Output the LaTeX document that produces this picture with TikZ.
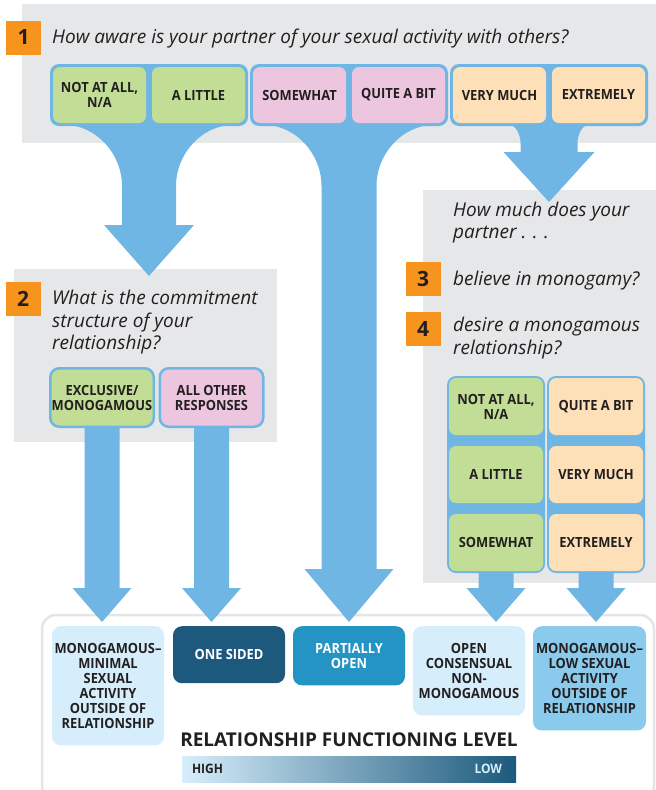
\documentclass[tikz,border=0pt]{standalone}
\usepackage{fontspec}
\setmainfont{Open Sans}
\newfontfamily\tagfont[FakeStretch=0.92]{Open Sans}
\usetikzlibrary{positioning,calc}

\definecolor{flow}{RGB}{112,182,228}
\definecolor{panelgray}{RGB}{230,231,232}
\definecolor{numorange}{RGB}{247,148,30}
\definecolor{lowgreen}{RGB}{193,221,150}
\definecolor{midpink}{RGB}{236,197,222}
\definecolor{highpeach}{RGB}{253,223,184}
\definecolor{outpale}{RGB}{214,238,251}
\definecolor{outdark}{RGB}{28,89,124}
\definecolor{outmid}{RGB}{35,148,196}
\definecolor{outsky}{RGB}{138,202,236}
\definecolor{ink}{RGB}{35,31,32}
\definecolor{framegray}{RGB}{228,229,230}

\newcommand\funnel[7]{%
  \fill[flow] let \p1=(#1.south), \p2=(#2) in
    (\x1-#3pt,\y1+1.5pt)
    .. controls (\x1-0.45*#3pt-0.55*#4pt,\y1+1.5pt) and (\x1-#4pt,\y1-0.45*#5pt) .. (\x1-#4pt,\y1-#5pt)
    -- (\x1-#4pt,\y2+#7pt) -- (\x1-#6pt,\y2+#7pt) -- (\x1,\y2)
    -- (\x1+#6pt,\y2+#7pt) -- (\x1+#4pt,\y2+#7pt) -- (\x1+#4pt,\y1-#5pt)
    .. controls (\x1+#4pt,\y1-0.45*#5pt) and (\x1+0.45*#3pt+0.55*#4pt,\y1+1.5pt) .. (\x1+#3pt,\y1+1.5pt)
    -- cycle;
}
\newcommand\droparrow[2]{%
  \fill[flow] let \p1=(#1.south), \p2=(#2) in
    (\x1-17.5pt,\y1+1pt) -- (\x1-17.5pt,\y2+34pt) -- (\x1-29.5pt,\y2+34pt) -- (\x1,\y2)
    -- (\x1+29.5pt,\y2+34pt) -- (\x1+17.5pt,\y2+34pt) -- (\x1+17.5pt,\y1+1pt) -- cycle;
}

\begin{document}
\begin{tikzpicture}[x=1pt, y=-1pt,
    numbox/.style = {fill=numorange, text=ink, minimum width=35pt, minimum height=34pt, inner sep=0pt, font=\fontsize{21}{21}\selectfont\bfseries},
    question/.style = {anchor=base west, inner sep=0pt, align=left, text=ink, font=\fontsize{19}{22.5}\selectfont\itshape},
    group/.style = {fill=flow, rounded corners=9pt, minimum width=198pt, minimum height=62pt, inner sep=0pt},
    answer/.style = {rounded corners=7pt, minimum width=93pt, minimum height=56pt, inner sep=0pt, align=center, text=ink, font=\tagfont\fontsize{14}{15}\selectfont\bfseries},
    choice/.style = {answer, draw=flow, line width=2.5pt, rounded corners=9pt, minimum width=103.5pt, minimum height=58.5pt},
    outcome/.style = {anchor=north, rounded corners=9pt, minimum width=112pt, minimum height=57pt, inner xsep=2pt, inner ysep=17pt, align=center, text=ink, font=\tagfont\fontsize{14}{15}\selectfont\bfseries}
  ]
  \useasboundingbox (0,0) rectangle (656,790);

  \fill[panelgray] (22,4) rectangle (656,143);
  \fill[panelgray] (14,269) rectangle (277,442);
  \fill[panelgray] (423,190) rectangle (656,583);
  \draw[framegray, fill=white, line width=2.5pt, rounded corners=14pt] (42,615) rectangle (654,800);

  \node (n1) [numbox] at (23.5,37.5) {1};
  \node (q1) [question] at (52,43.5) {How aware is your partner of your sexual activity with others?};

  \node (g1) [group] at (149,95) {};
  \node (g2) [group, right of=g1, node distance=200pt] {};
  \node (g3) [group, right of=g2, node distance=200pt] {};
  \node (notatall) [answer, fill=lowgreen] at (99.5,95) {NOT AT ALL,\\N/A};
  \node (alittle) [answer, fill=lowgreen, right of=notatall, node distance=99pt] {A LITTLE};
  \node (somewhat) [answer, fill=midpink, right of=alittle, node distance=101pt] {SOMEWHAT};
  \node (quite) [answer, fill=midpink, right of=somewhat, node distance=99pt] {QUITE A BIT};
  \node (verymuch) [answer, fill=highpeach, right of=quite, node distance=101pt] {VERY MUCH};
  \node (extremely) [answer, fill=highpeach, right of=verymuch, node distance=99pt] {EXTREMELY};

  \node (n2) [numbox] at (23,299) {2};
  \node (q2) [question] at (52,349.5) {What is the commitment\\structure of your\\relationship?};
  \node (exclusive) [choice, fill=lowgreen] at (102,397.5) {EXCLUSIVE/\\MONOGAMOUS};
  \node (allother) [choice, fill=midpink, right of=exclusive, node distance=109.5pt] {ALL OTHER\\RESPONSES};

  \node (q3) [question] at (453,238.5) {How much does your\\partner . . .};
  \node (n3) [numbox] at (423,279) {3};
  \node (q3b) [question] at (453,285) {believe in monogamy?};
  \node (n4) [numbox, below of=n3, node distance=50pt] {4};
  \node (q4) [question] at (453,354) {desire a monogamous\\relationship?};

  \node (col1) [group, minimum width=98pt, minimum height=197pt] at (496,474.5) {};
  \node (col2) [group, minimum width=98pt, minimum height=197pt, right of=col1, node distance=100pt] {};
  \node (bnot) [answer, fill=lowgreen, minimum width=94pt, minimum height=57pt] at (496,406.5) {NOT AT ALL,\\N/A};
  \node (blittle) [answer, fill=lowgreen, minimum width=94pt, minimum height=57pt, below of=bnot, node distance=68pt] {A LITTLE};
  \node (bsome) [answer, fill=lowgreen, minimum width=94pt, minimum height=57pt, below of=blittle, node distance=68pt] {SOMEWHAT};
  \node (bquite) [answer, fill=highpeach, minimum width=94pt, minimum height=57pt, right of=bnot, node distance=100pt] {QUITE A BIT};
  \node (bvery) [answer, fill=highpeach, minimum width=94pt, minimum height=57pt, below of=bquite, node distance=68pt] {VERY MUCH};
  \node (bextreme) [answer, fill=highpeach, minimum width=94pt, minimum height=57pt, below of=bvery, node distance=68pt] {EXTREMELY};

  \node (oc1) [outcome, fill=outpale] at (108,626) {MONOGAMOUS\textendash\\MINIMAL\\SEXUAL\\ACTIVITY\\OUTSIDE OF\\RELATIONSHIP};
  \node (oc2) [outcome, fill=outdark, text=white] at (229,626) {ONE SIDED};
  \node (oc3) [outcome, fill=outmid, text=white] at (349,626) {PARTIALLY\\OPEN};
  \node (oc4) [outcome, fill=outpale] at (469,626) {OPEN\\CONSENSUAL\\NON-\\MONOGAMOUS};
  \node (oc5) [outcome, fill=outsky, minimum width=113pt] at (589.5,626) {MONOGAMOUS\textendash\\LOW SEXUAL\\ACTIVITY\\OUTSIDE OF\\RELATIONSHIP};

  \node (level) [anchor=base, inner sep=0pt, text=ink, font=\fontsize{19}{19}\selectfont\bfseries] at (349,746) {RELATIONSHIP FUNCTIONING LEVEL};
  \node (gauge) [minimum width=334pt, minimum height=26pt, inner sep=0pt, left color=outpale, right color=outdark] at (349,769) {};
  \node (high) [anchor=west, inner sep=0pt, text=ink, font=\tagfont\fontsize{13}{13}\selectfont\bfseries] at ([xshift=10pt]gauge.west) {HIGH};
  \node (low) [anchor=east, inner sep=0pt, text=outpale, font=\tagfont\fontsize{13}{13}\selectfont\bfseries] at ([xshift=-14pt]gauge.east) {LOW};

  \coordinate (q2top) at (149,276);
  \coordinate (q3top) at (549,202);
  \coordinate (hit1) at ([yshift=4pt]oc1.north);
  \coordinate (hit2) at ([yshift=4pt]oc2.north);
  \coordinate (hit3) at ([yshift=4pt]oc3.north);
  \coordinate (hit4) at ([yshift=4pt]oc4.north);
  \coordinate (hit5) at ([yshift=4pt]oc5.north);

  \funnel{g1}{q2top}{85.5}{27}{60}{45}{51}
  \funnel{g2}{hit3}{86}{27.5}{60}{44.5}{53}
  \funnel{g3}{q3top}{40}{28.5}{17}{45.5}{50}
  \droparrow{exclusive}{hit1}
  \droparrow{allother}{hit2}
  \droparrow{col1}{hit4}
  \droparrow{col2}{hit5}
\end{tikzpicture}
\end{document}
